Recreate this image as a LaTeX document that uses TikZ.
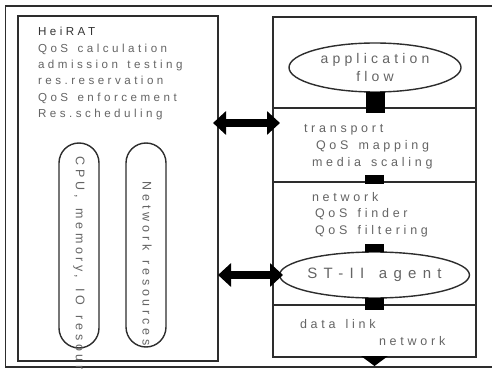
\documentclass[tikz,border=0pt]{standalone}
\usepackage{fontspec}
\usepackage{tikz}
\usetikzlibrary{shapes.geometric,arrows.meta}
\newfontfamily\diagfont{Liberation Sans}[LetterSpace=30, WordSpace=1.4]
\definecolor{framegray}{RGB}{45,45,45}
\definecolor{textgray}{RGB}{100,100,100}
\tikzstyle{frame}=[draw=framegray, line width=1.4pt]
\tikzstyle{layer}=[frame, rectangle, inner sep=0, outer sep=0, minimum width=203pt]
\tikzstyle{capsule}=[frame, rectangle, rounded corners=20pt, inner sep=0, outer sep=0, minimum width=40pt]
\tikzstyle{flow}=[frame, ellipse, inner sep=0, outer sep=0, minimum width=172pt, text=textgray, align=center]
\tikzstyle{txt}=[anchor=base west, inner sep=0, outer sep=0, text=textgray,
                 font=\diagfont\fontsize{12.5}{15}\selectfont]
\tikzstyle{smalltxt}=[txt, font=\diagfont\fontsize{11.6}{15}\selectfont]
\tikzstyle{plug}=[draw=black, line width=19pt]
\tikzstyle{bothway}=[draw=black, line width=8pt,
                     {Triangle[length=13pt,width=23pt]}-{Triangle[length=13pt,width=23pt]}]
\tikzstyle{diagram}=[x=1pt, y=-1pt]
\begin{document}
\begin{tikzpicture}[diagram]
        \useasboundingbox (0,0) rectangle (492,371);
        \clip (0,0) rectangle (492,371);
        % outer frame, open on the right
        \draw[frame] (497,6) -- (5.5,6) -- (5.5,367) -- (497,367);
        % HeiRAT box
        \node[frame, rectangle, inner sep=0, minimum width=200pt, minimum height=345pt] (heirat) at (118,188.5) {};
        \node[smalltxt, text=black!80] (name)  at (38,36)  {HeiRAT};
        \node[smalltxt]                (calc)  at (38,53)  {QoS calculation};
        \node[smalltxt]                (adm)   at (38,69)  {admission testing};
        \node[smalltxt]                (resv)  at (38,85)  {res.reservation};
        \node[smalltxt]                (enf)   at (38,102) {QoS enforcement};
        \node[smalltxt]                (sched) at (38,118) {Res.scheduling};
        \node[capsule, minimum height=205pt] (cpu) at (79,245.5) {};
        \node[capsule, minimum height=204pt] (net) at (146,245) {};
        \node[txt, anchor=west, rotate=-90] (cputext) at (79,157)  {CPU, memory, IO resources};
        \node[txt, anchor=west, rotate=-90] (nettext) at (147,182) {Network resources};
        % protocol stack
        \node[layer, minimum height=91pt]  (applayer)  at (374.5,62.5) {};
        \node[layer, minimum height=74pt]  (transport) at (374.5,145)  {};
        \node[layer, minimum height=123pt] (network)   at (374.5,243.5) {};
        \node[layer, minimum height=52pt]  (datalink)  at (374.5,331)  {};
        \node[flow, minimum height=49pt, font=\diagfont\fontsize{14}{18}\selectfont] (app) at (375,67.5) {application\\flow};
        \node[flow, minimum width=171pt, minimum height=46pt,
              font=\diagfont\fontsize{15}{18}\selectfont\addfontfeature{LetterSpace=42}] (st) at (374.5,275) {ST-II agent};
        \node[txt] (tp)    at (304,133) {transport};
        \node[txt] (map)   at (316,150) {QoS mapping};
        \node[txt] (scal)  at (312,167) {media scaling};
        \node[txt] (nw)    at (312,202) {network};
        \node[txt] (find)  at (315,218) {QoS finder};
        \node[txt] (filt)  at (315,234) {QoS filtering};
        \node[txt] (dl)    at (300,328) {data link};
        \node[txt] (dlnet) at (379,345) {network};
        % black plugs between the layers
        \draw[plug] (app.south) -- ([yshift=-5pt]app.south |- transport.north);
        \draw[plug] ([yshift=7pt]transport.south) -- ([yshift=-2pt]transport.south);
        \draw[plug] ([yshift=8pt]st.north) -- (st.north);
        \draw[plug] (st.south) -- ([yshift=-5pt]datalink.north);
        \fill[black] ([xshift=-13.5pt,yshift=1pt]datalink.south) -- ([xshift=13.5pt,yshift=1pt]datalink.south)
                     -- ([yshift=-9pt]datalink.south) -- cycle;
        % links between HeiRAT and the stack
        \coordinate (upl) at (213,123);
        \coordinate (upr) at (280,123);
        \coordinate (lol) at (218,275);
        \coordinate (lor) at (283,275);
        \draw[bothway] (upl) -- (upr);
        \draw[bothway] (lol) -- (lor);
    \end{tikzpicture}
\end{document}
